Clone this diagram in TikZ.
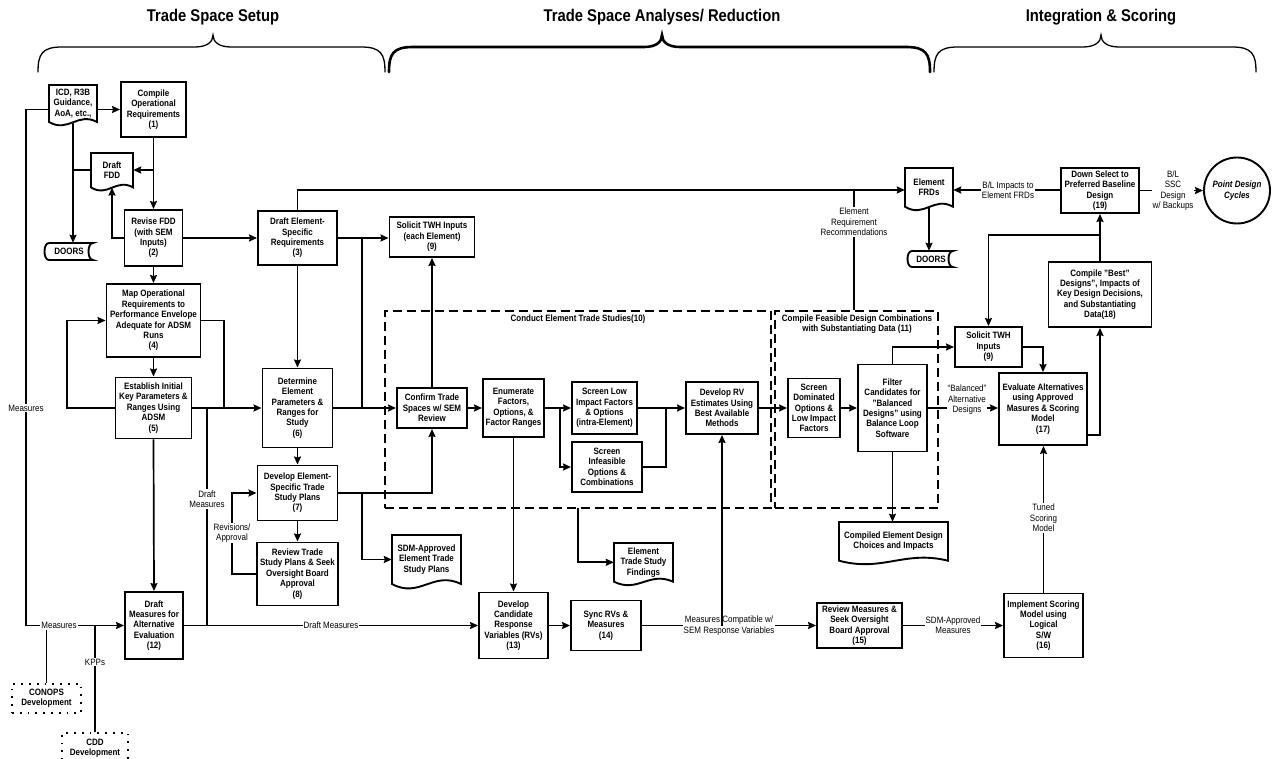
\documentclass[tikz,border=0pt]{standalone}
\usepackage{fontspec}
\setmainfont{Liberation Sans}[FakeStretch=0.87]
\usetikzlibrary{arrows.meta}

% document symbol: rectangle with a wavy lower edge, corners (x0,y0)-(x1,y1)
\newcommand{\docshape}[4]{%
  \draw[shapeline] (#1,#2) -- (#3,#2) -- (#3,{#2+0.86*(#4-#2)})
    .. controls ({#1+0.6*(#3-#1)},{#2+0.62*(#4-#2)}) and ({#1+0.4*(#3-#1)},{#2+1.12*(#4-#2)})
    .. (#1,{#2+0.86*(#4-#2)}) -- cycle;}
% stored-data symbol (DOORS)
\newcommand{\storeshape}[4]{%
  \draw[shapeline] ({#1+6},#2) -- (#3,#2) .. controls ({#3-6},#2) and ({#3-6},#4) .. (#3,#4)
    -- ({#1+6},#4) .. controls (#1,#4) and (#1,#2) .. ({#1+6},#2) -- cycle;}
% curly brace with a raised tip
\newcommand{\topbrace}[4]{%
  \draw[line width=#4, line cap=round] (#1,72) .. controls (#1,54) and ({#1+4},47) .. ({#1+24},47)
    -- ({#3-18},47) .. controls ({#3-6},47) and (#3,42) .. (#3,35)
    .. controls (#3,42) and ({#3+6},47) .. ({#3+18},47)
    -- ({#2-24},47) .. controls ({#2-4},47) and (#2,54) .. (#2,72);}

\begin{document}
\begin{tikzpicture}[x=1pt,y=-1pt,
  shapeline/.style={line width=1.9pt, line join=miter},
  box/.style={draw, line width=1.9pt, align=center, inner sep=0pt,
    font=\bfseries\fontsize{9.2}{10.4}\selectfont},
  sz/.style 2 args={minimum width=#1pt, minimum height=#2pt},
  doctext/.style={align=center, inner sep=0pt, font=\bfseries\fontsize{9.2}{10.4}\selectfont},
  dotbox/.style={draw, line width=1.6pt, dash pattern=on 1.8pt off 6pt, align=center,
    inner sep=0pt, font=\bfseries\fontsize{9.2}{10.4}\selectfont},
  dashbox/.style={draw, line width=1.9pt, dash pattern=on 9pt off 5pt, inner sep=0pt},
  title/.style={align=center, inner sep=0pt, font=\bfseries\fontsize{9.2}{10.4}\selectfont},
  lab/.style={fill=white, align=center, inner sep=1pt, font=\fontsize{9.2}{10.4}\selectfont},
  hdr/.style={font=\bfseries\fontsize{17}{20}\selectfont, inner sep=0pt},
  ln/.style={line width=1.7pt},
  arr/.style={line width=1.7pt, -{Stealth[length=8pt,width=7pt,inset=1pt]}}
]
\useasboundingbox (0,0) rectangle (1272,759);

% phase headings and braces
\node[hdr] (h1) at (213,17) {Trade Space Setup};
\node[hdr] (h2) at (662,17) {Trade Space Analyses/ Reduction};
\node[hdr] (h3) at (1101,17) {Integration \& Scoring};
\topbrace{38}{385}{213}{1.3pt}
\topbrace{389}{930}{662}{2.6pt}
\topbrace{934}{1256}{1101}{1.3pt}

% dashed groups
\node[dashbox, sz={386}{197}] (dash10) at (578,409.5) {};
\node[dashbox, sz={163}{197}] (dash11) at (856.5,409.5) {};
\node[title] (t10) at (578,319) {Conduct Element Trade Studies(10)};
\node[title] (t11) at (857,324) {Compile Feasible Design Combinations\\with Substantiating Data (11)};

% documents
\docshape{49}{85}{97}{128}
\node[doctext, sz={48}{37}] (dicd) at (73,103.5) {ICD, R3B\\Guidance,\\AoA, etc.,};
\docshape{91}{153}{133}{193}
\node[doctext, sz={42}{34.4}] (dfdd) at (112,170.2) {Draft\\FDD};
\docshape{392}{535}{461}{592}
\node[doctext, sz={69}{49}] (dsdm) at (426.5,559.5) {SDM-Approved\\Element Trade\\Study Plans};
\docshape{614}{543}{673}{588}
\node[doctext, sz={59}{38.7}] (dfind) at (643.5,562.3) {Element\\Trade Study\\Findings};
\docshape{839}{522}{948}{567}
\node[doctext, sz={109}{38.7}] (dcomp) at (893.5,541.3) {Compiled Element Design\\Choices and Impacts};
\docshape{905}{168}{953}{213}
\node[doctext, sz={48}{38.7}] (dfrd) at (929,187.3) {Element\\FRDs};

% stored data
\storeshape{43}{243}{93}{260}
\node[doctext, sz={50}{17}] (doors1) at (69,251.5) {DOORS};
\storeshape{906}{251}{953}{267}
\node[doctext, sz={47}{16}] (doors2) at (931,259) {DOORS};

% external inputs
\node[dotbox, sz={69}{29}] (conops) at (46.5,698.5) {CONOPS\\Development};
\node[dotbox, sz={66}{30}] (cdd) at (95,748) {CDD\\Development};

% process steps
\node[box, sz={65}{55}] (b1) at (153.5,109.5) {Compile\\Operational\\Requirements\\(1)};
\node[box, sz={58}{56}] (b2) at (153.5,238) {Revise FDD\\(with SEM\\Inputs)\\(2)};
\node[box, sz={79}{54}] (b3) at (297.5,238) {Draft Element-\\Specific\\Requirements\\(3)};
\node[box, sz={94}{73}] (b4) at (153.5,320.5) {Map Operational\\Requirements to\\Performance Envelope\\Adequate for ADSM\\Runs\\(4)};
\node[box, sz={76}{61}] (b5) at (153.5,408) {Establish Initial\\Key Parameters \&\\Ranges Using\\ADSM\\(5)};
\node[box, sz={70}{79}] (b6) at (297.5,408) {Determine\\Element\\Parameters \&\\Ranges for\\Study\\(6)};
\node[box, sz={80}{55}] (b7) at (297.5,493) {Develop Element-\\Specific Trade\\Study Plans\\(7)};
\node[box, sz={81}{63}] (b8) at (297.5,574) {Review Trade\\Study Plans \& Seek\\Oversight Board\\Approval\\(8)};
\node[box, sz={85}{40}] (b9a) at (432,237) {Solicit TWH Inputs\\(each Element)\\(9)};
\node[box, sz={70}{40}] (confirm) at (432,408) {Confirm Trade\\Spaces w/ SEM\\Review};
\node[box, sz={61}{58}] (enum) at (513.5,408) {Enumerate\\Factors,\\Options, \&\\Factor Ranges};
\node[box, sz={65}{52}] (scrlow) at (604.5,408) {Screen Low\\Impact Factors\\\& Options\\(intra-Element)};
\node[box, sz={70}{50}] (scrinf) at (607,467) {Screen\\Infeasible\\Options \&\\Combinations};
\node[box, sz={72}{52}] (devrv) at (722,408) {Develop RV\\Estimates Using\\Best Available\\Methods};
\node[box, sz={52}{59}] (scrdom) at (814,408) {Screen\\Dominated\\Options \&\\Low Impact\\Factors};
\node[box, sz={69}{87}] (filter) at (892.5,408) {Filter\\Candidates for\\"Balanced\\Designs" using\\Balance Loop\\Software};
\node[box, sz={67}{40}] (b9b) at (988.5,347) {Solicit TWH\\Inputs\\(9)};
\node[box, sz={88}{72}] (b17) at (1043,409) {Evaluate Alternatives\\using Approved\\Masures \& Scoring\\Model\\(17)};
\node[box, sz={103}{65}] (b18) at (1100,294.5) {Compile "Best"\\Designs", Impacts of\\Key Design Decisions,\\and Substantiating\\Data(18)};
\node[box, sz={78}{45}] (b19) at (1100,190.5) {Down Select to\\Preferred Baseline\\Design\\(19)};
\node[box, circle, minimum size=66pt, font=\bfseries\itshape\fontsize{9.2}{10.4}\selectfont] (pdc) at (1237,190.5) {Point Design\\Cycles};
\node[box, sz={58}{67}] (b12) at (154,625.5) {Draft\\Measures for\\Alternative\\Evaluation\\(12)};
\node[box, sz={69}{66}] (b13) at (513.5,625.5) {Develop\\Candidate\\Response\\Variables (RVs)\\(13)};
\node[box, sz={70}{50}] (b14) at (606,625.5) {Sync RVs \&\\Measures\\(14)};
\node[box, sz={85}{45}] (b15) at (859.5,625.5) {Review Measures \&\\Seek Oversight\\Board Approval\\(15)};
\node[box, sz={79}{64}] (b16) at (1043.5,625.5) {Implement Scoring\\Model using\\Logical\\S/W\\(16)};

% junction points and levels
\coordinate (mtop) at (26,109.5);
\coordinate (mbot) at (26,625.5);
\coordinate (y170) at (0,170);
\coordinate (y190) at (0,190);
\coordinate (y235) at (0,235);
\coordinate (y435) at (0,435);
\coordinate (err) at (854,190);
\coordinate (j3) at (362,238);
\coordinate (j4) at (224,408);
\coordinate (j5) at (67,408);
\coordinate (jdm) at (207,408);
\coordinate (jdmb) at (207,625.5);
\coordinate (j8) at (232,574);
\coordinate (j7) at (362,493);
\coordinate (jscr) at (560,408);
\coordinate (jinf) at (666,408);
\coordinate (jfind) at (578,508);

% connectors
\draw[arr] (dicd.east |- b1.west) -- (b1.west);
\draw[arr] (dicd.west |- b1.west) -- (mtop) -- (mbot) -- (b12.west);
\draw[ln] (conops.north) -- (conops.north |- mbot);
\draw[ln] (cdd.north) -- (cdd.north |- mbot);
\draw[arr] (b1.south) -- (b2.north);
\draw[arr] (b1.south |- y170) -- (dfdd.east |- y170);
\draw[arr] (dicd.south) -- (dicd.south |- doors1.north);
\draw[ln] (dicd.south |- y170) -- (dfdd.west |- y170);
\draw[arr] (b2.west) -| (dfdd.south);
\draw[arr] (b2.east) -- (b3.west);
\draw[arr] (b2.south) -- (b4.north);
\draw[arr] (b3.north) |- (dfrd.west |- y190);
\draw[arr] (b19.west |- y190) -- (dfrd.east |- y190);
\draw[ln] (err) -- (err |- dash11.north);
\draw[arr] (dfrd.south) -- (dfrd.south |- doors2.north);
\draw[arr] (b3.east) -- (b3.east -| b9a.west);
\draw[ln] (j3) -- (j3 |- b6.east);
\draw[arr] (b3.south) -- (b6.north);
\draw[ln] (b4.east) -| (j4);
\draw[arr] (b5.west) -- (j5) |- (b4.west);
\draw[arr] (b5.east) -- (b6.west);
\draw[ln] (jdm) -- (jdmb);
\draw[arr] (b4.south) -- (b5.north);
\draw[arr] (b5.south) -- (b12.north);
\draw[arr] (b12.east) -- (b13.west);
\draw[arr] (b6.east) -- (confirm.west);
\draw[arr] (b6.south) -- (b7.north);
\draw[arr] (b7.south) -- (b8.north);
\draw[arr] (b8.west) -- (j8) |- (b7.west);
\draw[arr] (b7.east) -| (confirm.south);
\draw[arr] (j7) |- (dsdm.west);
\draw[arr] (confirm.north) -- (b9a.south);
\draw[arr] (confirm.east) -- (enum.west);
\draw[arr] (enum.south) -- (b13.north);
\draw[arr] (enum.east) -- (scrlow.west);
\draw[arr] (jscr) |- (scrinf.west);
\draw[ln] (scrinf.east) -| (jinf);
\draw[arr] (scrlow.east) -- (devrv.west);
\draw[arr] (devrv.east) -- (scrdom.west);
\draw[arr] (scrdom.east) -- (filter.west);
\draw[arr] (filter.north) |- (b9b.west);
\draw[arr] (filter.east) -- (filter.east -| b17.west);
\draw[arr] (filter.south) -- (filter.south |- dcomp.north);
\draw[arr] (jfind) |- (dfind.west);
\draw[arr] (b13.east) -- (b14.west);
\draw[arr] (b14.east) -- (b15.west);
\draw[arr] (b15.east) -- (b16.west);
\draw[arr] (b16.north) -- (b16.north |- b17.south);
\draw[arr] (b9b.east) -| (b17.north);
\draw[arr] (b17.east |- y435) -| (b18.south);
\draw[arr] (b18.north) -- (b19.south);
\draw[arr] (b18.north |- y235) -| (b9b.north);
\draw[arr] (b19.east) -- (pdc.west);

% connector labels
\node[lab] (lm1) at (26,408) {Measures};
\node[lab] (lm2) at (59,625.5) {Measures};
\node[lab] (lkpp) at (95,662) {KPPs};
\node[lab] (ldm1) at (207,499) {Draft\\Measures};
\node[lab] (ldm2) at (331,625.5) {Draft Measures};
\node[lab] (lrev) at (232,533) {Revisions/\\Approval};
\node[lab] (lerr) at (854,222) {Element\\Requirement\\Recommendations};
\node[lab] (lbli) at (1008,190) {B/L Impacts to\\Element FRDs};
\node[lab] (lssc) at (1173,190.5) {B/L\\SSC\\Design\\w/ Backups};
\node[lab] (lbal) at (967,400) {``Balanced''\\Alternative\\Designs};
\node[lab] (lmc) at (729,625.5) {Measures Compatible w/\\SEM Response Variables};
\node[lab] (lsdm) at (953,625.5) {SDM-Approved\\Measures};
\node[lab] (ltun) at (1043.5,518) {Tuned\\Scoring\\Model};

% feedback of synced measures into the RV estimates
\draw[arr] (devrv.south |- b14.east) -- (devrv.south);
\end{tikzpicture}
\end{document}
